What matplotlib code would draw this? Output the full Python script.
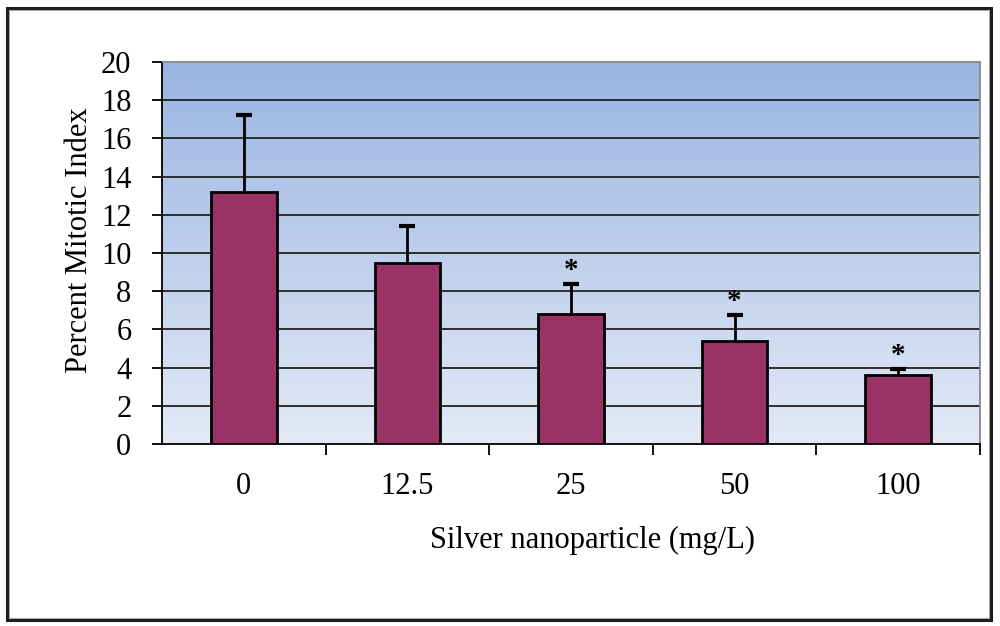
import numpy as np
import matplotlib
matplotlib.use("Agg")
import matplotlib.pyplot as plt
from matplotlib.patches import Rectangle
from matplotlib.colors import LinearSegmentedColormap

# data
categories = ["0", "12.5", "25", "50", "100"]
mitotic_index = [13.2, 9.5, 6.8, 5.4, 3.6]
error_up = [4.0, 1.9, 1.6, 1.35, 0.35]
significant = [False, False, True, True, True]

plt.rcParams['font.family'] = ['Liberation Serif', 'DejaVu Serif']

fig = plt.figure(figsize=(10, 6.26), dpi=100)
ax = fig.add_axes([0.162, 0.2907, 0.818, 0.6103])

# gradient background for the plot area
grad = LinearSegmentedColormap.from_list("bg", ["#e3eaf6", "#99b4e2"])
ax.imshow(np.linspace(0, 1, 256).reshape(-1, 1), cmap=grad, aspect="auto",
          extent=[0, 1, 0, 1], transform=ax.transAxes, origin="lower", zorder=0)

x = np.arange(len(categories))
ax.set_axisbelow(False)
for yv in range(2, 20, 2):
    ax.axhline(yv, color="#222222", lw=1.3, zorder=1)

ax.bar(x, mitotic_index, width=0.4, color="#993366", edgecolor="black",
       linewidth=2, zorder=3)
_, caps, _ = ax.errorbar(x, mitotic_index, yerr=[np.zeros(len(x)), error_up],
                         fmt="none", ecolor="black", elinewidth=2, capsize=6,
                         capthick=3, zorder=2)
caps[0].set_visible(False)  # no cap at the bar top

for xi, v, e, s in zip(x, mitotic_index, error_up, significant):
    if s:
        ax.annotate("*", (xi, v + e), xytext=(0, 0), textcoords="offset points",
                    ha="center", va="bottom", fontsize=21, fontweight="bold",
                    zorder=4)

ax.set_xlim(-0.5, len(categories) - 0.5)
ax.set_ylim(0, 20)
ax.set_yticks(range(0, 21, 2))
ax.set_xticks(x)
ax.set_xticklabels(categories)
ax.set_xticks(np.arange(0.5, len(categories) - 0.4, 1), minor=True)
ax.tick_params(axis="x", which="major", length=0, pad=20, labelsize=22)
ax.tick_params(axis="x", which="minor", length=8, width=1.3, direction="out")
ax.tick_params(axis="y", length=7, width=1.3, direction="out", pad=15,
               labelsize=22)

for side in ["left", "bottom"]:
    ax.spines[side].set_color("black")
    ax.spines[side].set_linewidth(1.3)
for side in ["top", "right"]:
    ax.spines[side].set_color("#888888")
    ax.spines[side].set_linewidth(1.3)

ax.set_xlabel("Silver nanoparticle (mg/L)", fontsize=22, labelpad=18)
ax.set_ylabel("Percent Mitotic Index", fontsize=22, labelpad=5)
ax.xaxis.label.set_x(0.526)
ax.yaxis.label.set_y(0.534)

# outer frame around the whole chart
fig.patches.append(Rectangle((0.0065, 0.0095), 0.9845, 0.9775, transform=fig.transFigure,
                             fill=False, edgecolor="#1e1e1e", lw=2.2, zorder=1))
fig.patches.append(Rectangle((0.0088, 0.0130), 0.9800, 0.9710, transform=fig.transFigure,
                             fill=False, edgecolor="#b0b0b0", lw=0.8, zorder=0))

fig.savefig("out.png", dpi=100)
